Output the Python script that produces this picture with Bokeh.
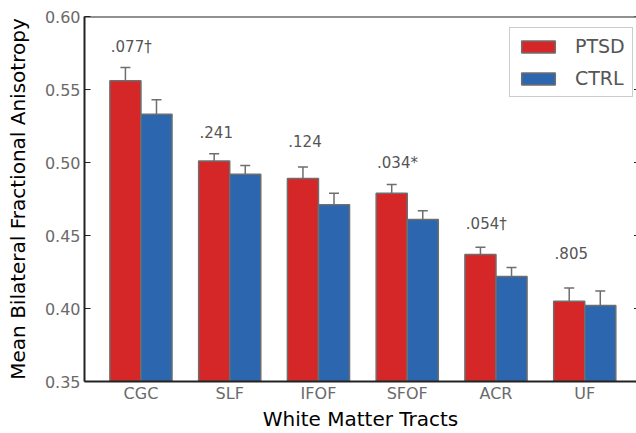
from bokeh.plotting import figure
from bokeh.models import (ColumnDataSource, Range1d, FixedTicker, Whisker, TeeHead,
                          Span, Legend, LegendItem, PrintfTickFormatter)
from bokeh.embed import file_html
from bokeh.resources import INLINE
from bokeh.core.properties import value

tracts = ["CGC", "SLF", "IFOF", "SFOF", "ACR", "UF"]
ptsd_mean = [0.556, 0.501, 0.489, 0.479, 0.437, 0.405]
ptsd_err = [0.009, 0.005, 0.008, 0.006, 0.005, 0.009]
ctrl_mean = [0.533, 0.492, 0.471, 0.461, 0.422, 0.402]
ctrl_err = [0.010, 0.006, 0.008, 0.006, 0.006, 0.010]
p_labels = [".077\u2020", ".241", ".124", ".034*", ".054\u2020", ".805"]
p_label_y = [0.579, 0.521, 0.515, 0.500, 0.458, 0.438]
y_ticks = [0.35, 0.40, 0.45, 0.50, 0.55, 0.60]

RED = "#d62728"
BLUE = "#2c66ae"
EDGE = "#6e6e6e"
FONT = "DejaVu Sans"
W = 0.35
X_START, X_END = -0.636, 5.583

idx = list(range(len(tracts)))
ptsd_src = ColumnDataSource(dict(
    x=[i - W / 2 for i in idx], top=ptsd_mean,
    upper=[m + e for m, e in zip(ptsd_mean, ptsd_err)],
    lower=[m - e for m, e in zip(ptsd_mean, ptsd_err)]))
ctrl_src = ColumnDataSource(dict(
    x=[i + W / 2 for i in idx], top=ctrl_mean,
    upper=[m + e for m, e in zip(ctrl_mean, ctrl_err)],
    lower=[m - e for m, e in zip(ctrl_mean, ctrl_err)]))
lab_src = ColumnDataSource(dict(x=[i - W + 0.01 for i in idx], y=p_label_y, text=p_labels))

p = figure(width=636, height=433, output_backend="svg", toolbar_location=None,
           x_range=Range1d(X_START, X_END), y_range=Range1d(0.35, 0.60),
           min_border_left=84, min_border_top=16, min_border_bottom=52, min_border_right=0)
p.outline_line_color = None
p.grid.visible = False
p.background_fill_color = "white"

r1 = p.vbar(x="x", top="top", bottom=0, width=W, source=ptsd_src,
            fill_color=RED, line_color=EDGE, line_width=1.5)
r2 = p.vbar(x="x", top="top", bottom=0, width=W, source=ctrl_src,
            fill_color=BLUE, line_color=EDGE, line_width=1.5)

for src in (ptsd_src, ctrl_src):
    wk = Whisker(base="x", upper="upper", lower="lower", source=src,
                 line_color=EDGE, line_width=1.5,
                 upper_head=TeeHead(size=10, line_color=EDGE, line_width=1.5),
                 lower_head=TeeHead(size=10, line_color=EDGE, line_width=1.5))
    p.add_layout(wk)

p.text(x="x", y="y", text="text", source=lab_src, text_font=value(FONT),
       text_font_size="15px", text_color="#555555", text_align="left",
       text_baseline="middle")

# top spine
p.add_layout(Span(location=0.60, dimension="width", line_color="#222222", line_width=2))
# inward ticks on the right edge (spine itself lies outside the picture)
p.scatter(x=[X_END] * len(y_ticks), y=y_ticks, marker="dash", size=5,
          line_color="#222222", line_width=1)

# axes
p.yaxis.ticker = FixedTicker(ticks=y_ticks)
p.yaxis.formatter = PrintfTickFormatter(format="%.2f")
p.yaxis.axis_label = "Mean Bilateral Fractional Anisotropy"
p.xaxis.ticker = FixedTicker(ticks=idx)
p.xaxis.major_label_overrides = {i: t for i, t in enumerate(tracts)}
p.xaxis.axis_label = "White Matter Tracts"
for ax in (p.xaxis[0], p.yaxis[0]):
    ax.axis_line_color = "#222222"
    ax.axis_line_width = 2
    ax.major_tick_line_color = "#222222"
    ax.minor_tick_line_color = None
    ax.major_tick_out = 0
    ax.major_label_text_font = FONT
    ax.major_label_text_font_size = "16px"
    ax.major_label_text_color = "#6a6a6a"
    ax.axis_label_text_font = FONT
    ax.axis_label_text_font_size = "20px"
    ax.axis_label_text_font_style = "normal"
    ax.axis_label_text_color = "black"
p.yaxis.major_tick_in = 6
p.xaxis.major_tick_in = 0
p.yaxis.major_label_standoff = 4
p.yaxis.axis_label_standoff = 12
p.xaxis.major_label_standoff = 2
p.xaxis.axis_label_standoff = 1

legend = Legend(items=[LegendItem(label="PTSD", renderers=[r1]),
                       LegendItem(label="CTRL", renderers=[r2])],
                location=(425, 284), glyph_width=42, glyph_height=15,
                label_standoff=16, label_text_font=FONT, label_text_font_size="19px",
                label_text_color="#555555", spacing=10, padding=7, margin=0,
                border_line_color="#999999", border_line_width=1.5,
                background_fill_alpha=1.0)
p.add_layout(legend)

open("out.html", "w").write(file_html(p, INLINE))
